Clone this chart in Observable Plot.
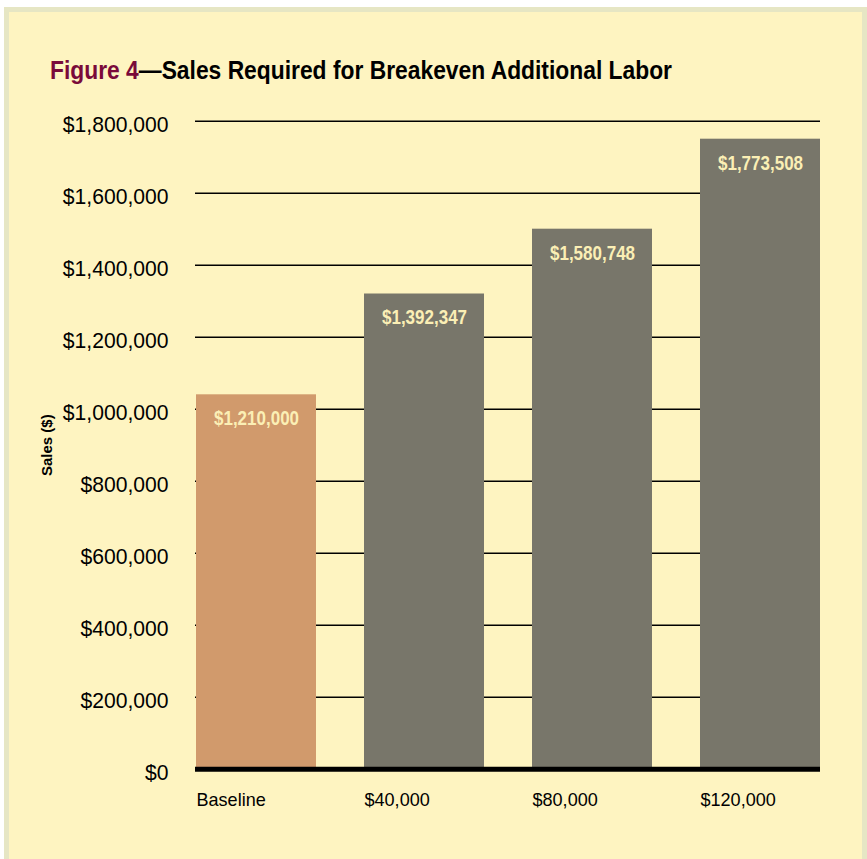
<!DOCTYPE html>
<html>
<head>
<meta charset="utf-8">
<script src="https://cdn.jsdelivr.net/npm/d3@7"></script>
<script src="https://cdn.jsdelivr.net/npm/@observablehq/plot@0.6"></script>
<style>
  html, body { margin: 0; padding: 0; background: #ffffff; }
  #wrap { position: relative; width: 867px; height: 859px; overflow: hidden; }
  #frame { position: absolute; left: 4px; top: 7px; width: 853px; height: 860px;
           background: #FEF4C1; border: 5px solid #E6E6C4; border-bottom: none; }
  #title { position: absolute; left: 50px; top: 55px; white-space: nowrap; line-height: 30px;
           font-family: "Liberation Sans", Arial, sans-serif;
           font-weight: bold; font-size: 26px; color: #000; transform-origin: 0 0; }
  #title .fig { color: #7A0A3A; }
  #chart { position: absolute; left: 0; top: 0; }
</style>
</head>
<body>
<div id="wrap">
  <div id="frame"></div>
  <div id="title"><span class="fig">Figure 4</span>—Sales Required for Breakeven Additional Labor</div>
  <div id="chart"></div>
</div>
<script>
// Data
const categories = ["Baseline", "$40,000", "$80,000", "$120,000"];
const barHeights = [1040000, 1320000, 1500000, 1750000];   // bar heights as drawn
const barLabels = ["$1,210,000", "$1,392,347", "$1,580,748", "$1,773,508"];
const yTicks = [0, 200000, 400000, 600000, 800000, 1000000, 1200000, 1400000, 1600000, 1800000];

const rows = categories.map((c, i) => ({category: c, value: barHeights[i], label: barLabels[i], base: i === 0}));

const font = '"Liberation Sans", Arial, sans-serif';
const fmt = d3.format("$,");

const chart = Plot.plot({
  width: 867,
  height: 859,
  marginLeft: 195,
  marginRight: 47,
  marginTop: 120.7,
  marginBottom: 90.3,
  style: {background: "transparent", fontFamily: font, color: "#000"},
  x: {domain: categories, paddingInner: 0.287, paddingOuter: 0},
  y: {domain: [0, 1800000]},
  marks: [
    Plot.ruleY(yTicks.filter(d => d > 0), {stroke: "#000", strokeWidth: 1.4}),
    Plot.barY(rows, {x: "category", y: "value", fill: d => d.base ? "#D19A6C" : "#78766A"}),
    Plot.text(rows, {x: "category", y: "value", text: "label", dy: 24, fill: "#FBEFB5",
      fontWeight: "bold", fontSize: 20}),
    Plot.ruleY([0], {stroke: "#000", strokeWidth: 5}),
    Plot.axisY({ticks: yTicks, tickFormat: fmt, tickSize: 0, tickPadding: 27, fontSize: 22, dy: 4,
      label: "Sales ($)", labelAnchor: "center", labelOffset: 154, labelArrow: false}),
    Plot.axisX({tickSize: 0, tickPadding: 23, fontSize: 19, textAnchor: "start", dx: -60, label: null})
  ]
});
document.getElementById("chart").appendChild(chart);

// style axis label
const yl = d3.select(chart).selectAll("g[aria-label='y-axis label']");
yl.attr("font-weight", "bold").attr("font-size", 15);
yl.selectAll("text").attr("font-weight", "bold").attr("font-size", 15);

// condense text horizontally to mimic the condensed typeface
function condense(sel, factor) {
  sel.each(function() {
    const w = this.getComputedTextLength();
    if (w > 0) {
      this.setAttribute("textLength", w * factor);
      this.setAttribute("lengthAdjust", "spacingAndGlyphs");
    }
  });
}
condense(d3.select(chart).selectAll("g[aria-label='text'] text"), 0.85);
condense(d3.select(chart).selectAll("g[aria-label='x-axis tick label'] text"), 0.95);
condense(d3.select(chart).selectAll("g[aria-label='y-axis tick label'] text"), 0.96);

// fit title to reference width
const t = document.getElementById("title");
const w = t.getBoundingClientRect().width;
t.style.transform = `scaleX(${622 / w})`;
</script>
</body>
</html>
